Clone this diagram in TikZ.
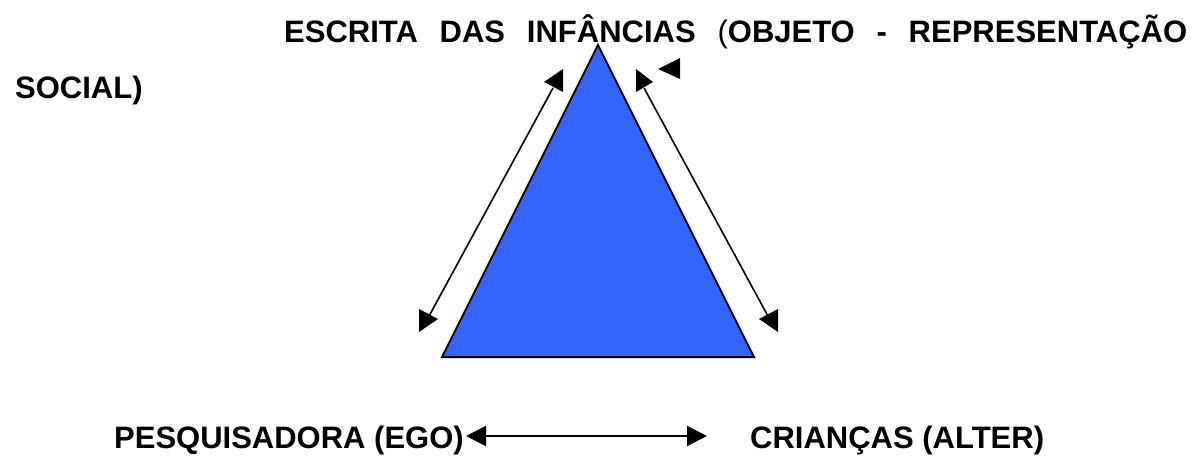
\documentclass[tikz,border=0pt]{standalone}
\usepackage{fontspec}
\setmainfont{Liberation Sans}
\usetikzlibrary{arrows.meta}
\definecolor{triblue}{RGB}{51,102,255}

\begin{document}
\begin{tikzpicture}[x=1pt, y=-1pt,
        every node/.style={inner sep=0pt, font=\fontsize{31}{37}\selectfont\bfseries},
        lbl/.style={anchor=base west},
        tri/.style={fill=triblue, draw=black, line width=2pt, line join=miter},
        link/.style={line width=1.6pt},
        head/.style={fill=black}]
        \useasboundingbox (0,0) rectangle (1192,458);

        \node[lbl] (objeto) at (284,42) {\makebox[903pt][s]{ESCRITA DAS INFÂNCIAS {\mdseries(}OBJETO - REPRESENTAÇÃO}};
        \node[lbl] (social) at (15,98) {SOCIAL)};
        \node[anchor=base east] (pesq) at (464,448) {PESQUISADORA (EGO)};
        \node[lbl] (criancas) at (750,448) {CRIANÇAS (ALTER)};

        \coordinate (top) at (598,45);
        \coordinate (bl) at (442,357);
        \coordinate (br) at (754,357);
        \filldraw[tri] (top) -- (bl) -- (br) -- cycle;

        % left and right arrows
        \coordinate (la) at (553,88);
        \coordinate (lb) at (428,318);
        \coordinate (ra) at (644,88);
        \coordinate (rb) at (769,318);
        \draw[link] (la) -- (lb);
        \draw[link] (ra) -- (rb);
        \fill[head] (563,69) -- ++(-19,13) -- ++(19,10) -- cycle;
        \fill[head] (419,332) -- ++(0,-23) -- ++(19,10) -- cycle;
        \fill[head] (636,69) -- ++(17,13) -- ++(-17,10) -- cycle;
        \fill[head] (778,332) -- ++(0,-23) -- ++(-19,10) -- cycle;
        \fill[head] (658,69) -- ++(22,-11) -- ++(0,21) -- cycle;

        \coordinate (ego) at (466,436);
        \coordinate (alter) at (707,436);
        \draw[line width=2pt, {Triangle[length=20pt,width=20pt]}-{Triangle[length=20pt,width=20pt]}] (ego) -- (alter);
    \end{tikzpicture}
\end{document}
